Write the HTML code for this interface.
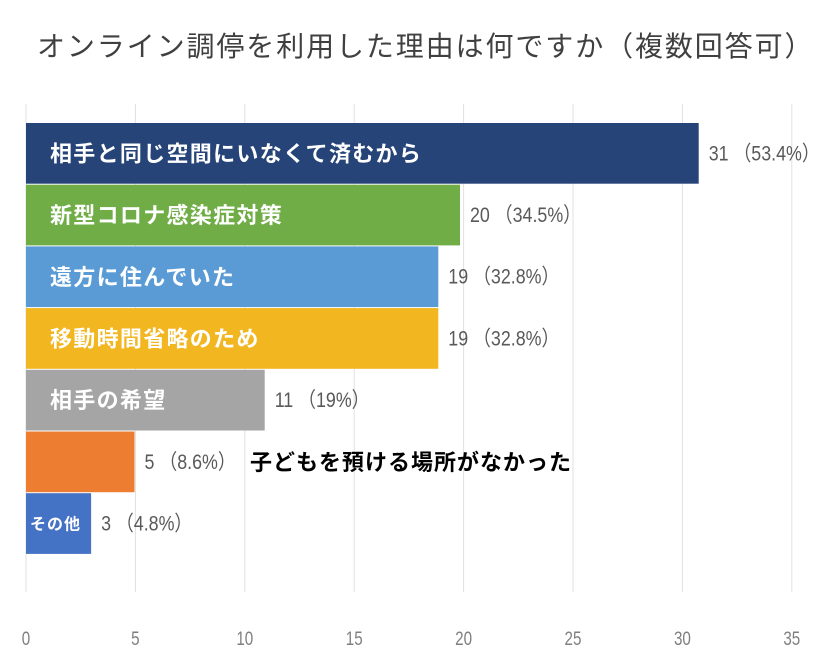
<!DOCTYPE html>
<html><head><meta charset="utf-8"><style>
html,body{margin:0;padding:0;background:#fff;width:840px;height:668px;overflow:hidden}
svg{display:block}
</style></head><body>
<svg id="chart" width="840" height="668" xmlns="http://www.w3.org/2000/svg">
<text x="37" y="56" font-family="'Liberation Sans','Noto Sans CJK JP',sans-serif" font-size="28" letter-spacing="1.9" fill="#404040">オンライン調停を利用した理由は何ですか（複数回答可）</text>
<g id="grid"></g><g id="bars"></g><g id="labels"></g><g id="ticks"></g>
</svg>
<script>
const categories=["相手と同じ空間にいなくて済むから","新型コロナ感染症対策","遠方に住んでいた","移動時間省略のため","相手の希望","子どもを預ける場所がなかった","その他"];
const values=[31,20,19,19,11,5,3];
const percents=["53.4%","34.5%","32.8%","32.8%","19%","8.6%","4.8%"];
const tickValues=[0,5,10,15,20,25,30,35];
const colors=["#264478","#70AD47","#5B9BD5","#F2B620","#A5A5A5","#ED7D31","#4472C4"];
const NS="http://www.w3.org/2000/svg";
const x0=26,unit=21.7,top0=123,rowH=61.7;
const xs=v=>x0+v*unit;
const ys=i=>top0+i*rowH;
const FF="'Liberation Sans','Noto Sans CJK JP',sans-serif";
function mk(tag,attrs,parent){const e=document.createElementNS(NS,tag);for(const k in attrs)e.setAttribute(k,attrs[k]);parent.appendChild(e);return e;}
const grid=document.getElementById('grid'),bars=document.getElementById('bars'),labels=document.getElementById('labels'),ticks=document.getElementById('ticks');
tickValues.forEach(t=>{
  const gx=26+t*21.88;
  const l=mk('line',{x1:gx,x2:gx,y1:104,y2:592,stroke:'#e0e0e0','stroke-width':1},grid);
  
  
  const tx=mk('text',{x:gx,y:645,'text-anchor':'middle','font-family':FF,'font-size':19,fill:'#7f7f7f',transform:'translate('+gx+',0) scale(0.8,1) translate('+(-gx)+',0)'},ticks);
  tx.textContent=t;
  
  
});
categories.forEach((c,i)=>{
  const y=ys(i),h=rowH-1;
  const r=mk('rect',{x:x0,y:y,width:xs(values[i])-x0,height:h,fill:colors[i]},bars);
  
  
  const ve=xs(values[i])+10;
  const vl=mk('text',{x:ve,y:y+h/2+7,'font-family':FF,'font-size':21,fill:'#595959',transform:'translate('+ve+',0) scale(0.85,1) translate('+(-ve)+',0)'},labels);
  vl.textContent=values[i]+" （"+percents[i]+"）";
  
  
  let cx=50,fs=22,ls=1.3,fill='#fff';
  if(i===5){cx=250;fill='#000';ls=1;}
  if(i===6){cx=30;fs=16;ls=1;}
  const cl=mk('text',{x:cx,y:y+h/2+8,'font-family':FF,'font-size':fs,'letter-spacing':ls,'font-weight':'bold',fill:fill},labels);
  cl.textContent=c;
  
  
  if(i===6)cl.setAttribute('y',y+h/2+6);
});
</script>
</body></html>
